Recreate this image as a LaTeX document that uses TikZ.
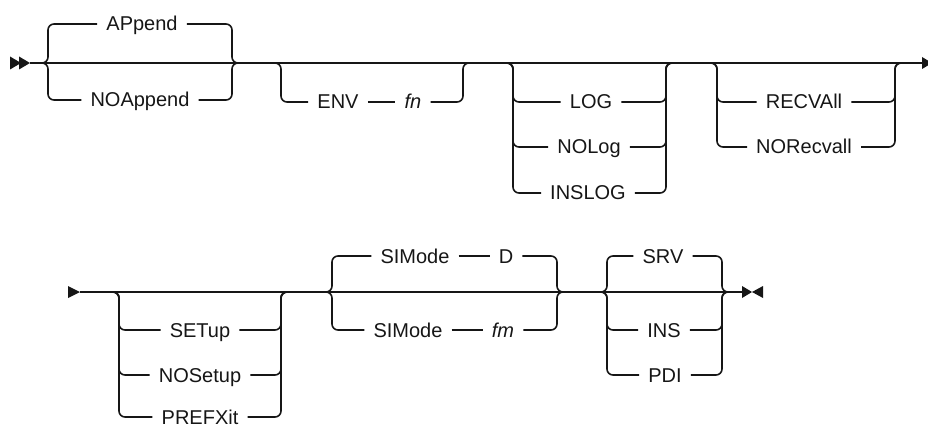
\documentclass[tikz,border=0pt]{standalone}
\usepackage{fontspec}
\setmainfont{Liberation Sans}
\usepackage{xcolor}
\usepackage{tikz}
\definecolor{RRInk}{HTML}{161616}

\begin{document}
\begin{tikzpicture}[x=1pt,y=-1pt,
  rail/.style={draw=RRInk,line width=1.6pt,rounded corners=6pt},
  kw/.style={inner xsep=9pt,inner ysep=0pt,text height=14pt,text depth=0pt,text=RRInk,font=\fontsize{20}{24}\selectfont},
  var/.style={kw,font=\fontsize{20}{24}\selectfont\itshape}]
\path[use as bounding box] (0,0) rectangle (928,430);
\coordinate (r1s) at (30,63);
\coordinate (r1e) at (922,63);
\fill[RRInk] (10,56.5) -- (21,63) -- (10,69.5) -- cycle;
\fill[RRInk] (19,56.5) -- (30,63) -- (19,69.5) -- cycle;
\fill[RRInk] (922,57) -- (932,63) -- (922,69) -- cycle;
\draw[rail] (r1s) -- (r1e);
\coordinate (g1l) at (40,63);
\coordinate (g1r) at (240,63);
\node[kw] (append) at (142,24) {APpend};
\node[kw] (noappend) at (140,100) {NOAppend};
\draw[rail] (g1l) -| (48,24) -- (append.west);
\draw[rail] (append.east) -| (232,63) -- (g1r);
\draw[rail] (g1l) -| (48,100) -- (noappend.west);
\draw[rail] (noappend.east) -| (232,63) -- (g1r);
\coordinate (g2l) at (272,63);
\coordinate (g2r) at (472,63);
\node[kw] (env) at (338,102) {ENV};
\node[var] (envfn) at (413,102) {fn};
\draw[rail] (g2l) -| (281,102) -- (env.west);
\draw[rail] (env.east) -- (envfn.west);
\draw[rail] (envfn.east) -| (463,63) -- (g2r);
\coordinate (g3l) at (505,63);
\coordinate (g3r) at (677,63);
\node[kw] (log) at (591,102) {LOG};
\node[kw] (nolog) at (589,147) {NOLog};
\node[kw] (inslog) at (588,193) {INSLOG};
\draw[rail] (g3l) -| (513,102) -- (log.west);
\draw[rail] (g3l) -| (513,147) -- (nolog.west);
\draw[rail] (g3l) -| (513,193) -- (inslog.west);
\draw[rail] (log.east) -| (666,63) -- (g3r);
\draw[rail] (nolog.east) -| (666,63) -- (g3r);
\draw[rail] (inslog.east) -| (666,63) -- (g3r);
\coordinate (g4l) at (707,63);
\coordinate (g4r) at (903,63);
\node[kw] (recvall) at (804,102) {RECVAll};
\node[kw] (norecvall) at (804,147) {NORecvall};
\draw[rail] (g4l) -| (717,102) -- (recvall.west);
\draw[rail] (g4l) -| (717,147) -- (norecvall.west);
\draw[rail] (recvall.east) -| (895,63) -- (g4r);
\draw[rail] (norecvall.east) -| (895,63) -- (g4r);
\coordinate (r2s) at (80,292);
\coordinate (r2e) at (742,292);
\fill[RRInk] (68,286) -- (80,292) -- (68,298) -- cycle;
\fill[RRInk] (742,286) -- (752,292) -- (742,298) -- cycle;
\fill[RRInk] (763,286) -- (752,292) -- (763,298) -- cycle;
\draw[rail] (r2s) -- (r2e);
\coordinate (g5l) at (111,292);
\coordinate (g5r) at (292,292);
\node[kw] (setup) at (200,330) {SETup};
\node[kw] (nosetup) at (200,375) {NOSetup};
\node[kw] (prefxit) at (200,417) {PREFXit};
\draw[rail] (g5l) -| (119,330) -- (setup.west);
\draw[rail] (g5l) -| (119,375) -- (nosetup.west);
\draw[rail] (g5l) -| (119,417) -- (prefxit.west);
\draw[rail] (setup.east) -| (281,292) -- (g5r);
\draw[rail] (nosetup.east) -| (281,292) -- (g5r);
\draw[rail] (prefxit.east) -| (281,292) -- (g5r);
\coordinate (g6l) at (323,292);
\coordinate (g6r) at (565,292);
\node[kw] (simodeA) at (415,256) {SIMode};
\node[kw] (dval) at (506,256) {D};
\node[kw] (simodeB) at (408,330) {SIMode};
\node[var] (fmval) at (503,330) {fm};
\draw[rail] (g6l) -| (332,256) -- (simodeA.west);
\draw[rail] (simodeA.east) -- (dval.west);
\draw[rail] (dval.east) -| (557,292) -- (g6r);
\draw[rail] (g6l) -| (332,330) -- (simodeB.west);
\draw[rail] (simodeB.east) -- (fmval.west);
\draw[rail] (fmval.east) -| (557,292) -- (g6r);
\coordinate (g7l) at (600,292);
\coordinate (g7r) at (730,292);
\node[kw] (srv) at (663,256) {SRV};
\node[kw] (ins) at (664,330) {INS};
\node[kw] (pdi) at (665,375) {PDI};
\draw[rail] (g7l) -| (607,256) -- (srv.west);
\draw[rail] (g7l) -| (607,330) -- (ins.west);
\draw[rail] (g7l) -| (607,375) -- (pdi.west);
\draw[rail] (srv.east) -| (722,292) -- (g7r);
\draw[rail] (ins.east) -| (722,292) -- (g7r);
\draw[rail] (pdi.east) -| (722,292) -- (g7r);
\end{tikzpicture}
\end{document}
